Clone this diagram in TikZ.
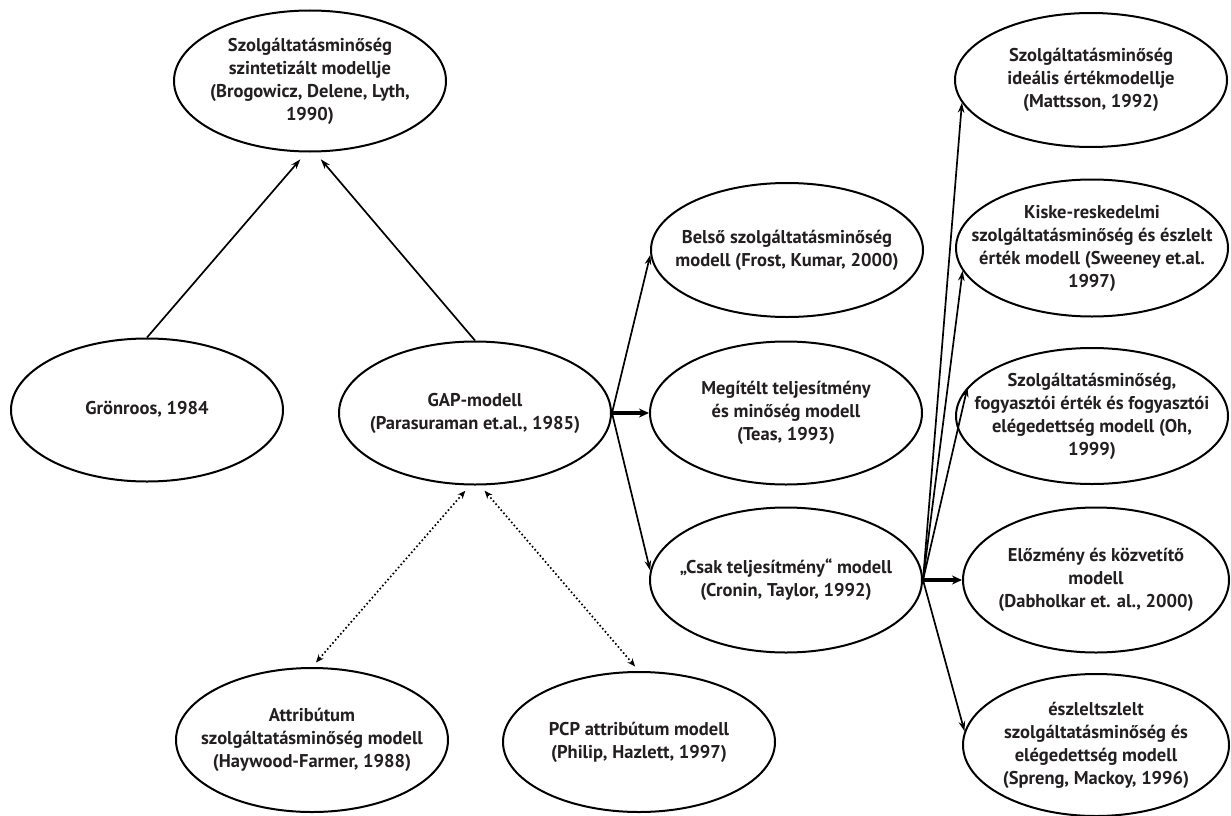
\documentclass[tikz,border=0pt]{standalone}
\usepackage{fontspec}
\setmainfont{PT Sans}
\usetikzlibrary{shapes.geometric, arrows.meta}
\definecolor{ink}{HTML}{231F20}
\newcommand{\lines}[1]{\makebox[0pt]{\begin{tabular}{@{}c@{}}#1\end{tabular}}}
\tikzstyle{model} = [ellipse, draw=black, line width=2pt, minimum width=272pt, minimum height=143pt, inner sep=0pt, text=ink, font=\fontsize{18.5}{23}\selectfont\bfseries]
\tikzstyle{arrow} = [line width=1.7pt, -{Stealth[length=10pt, width=6.5pt]}]
\tikzstyle{thickarrow} = [line width=3.2pt, -{Stealth[length=10pt, width=9pt]}]
\tikzstyle{link} = [line width=1.7pt, dash pattern=on 1.6pt off 2.4pt, {Stealth[length=8pt, width=6.5pt]}-{Stealth[length=8pt, width=6.5pt]}]

\begin{document}
\begin{tikzpicture}[x=1pt, y=-1pt]
                \useasboundingbox (0,0) rectangle (1231,816);
                % left part
                \node (synth) [model, minimum height=141pt] at (310,81) {\lines{Szolgáltatásminőség\\szintetizált modellje\\(Brogowicz, Delene, Lyth,\\1990)}};
                \node (gron) [model] at (147,410) {\lines{Grönroos, 1984}};
                \node (gap) [model] at (475,413) {\lines{GAP-modell\\(Parasuraman et.al., 1985)}};
                \node (attr) [model, minimum height=144pt] at (312,740) {\lines{Attribútum\\szolgáltatásminőség modell\\(Haywood-Farmer, 1988)}};
                \node (pcp) [model, minimum height=140pt] at (639,742) {\lines{PCP attribútum modell\\(Philip, Hazlett, 1997)}};
                % middle column
                \node (belso) [model, minimum height=134pt] at (787,250) {\lines{Belső szolgáltatásminőség\\modell (Frost, Kumar, 2000)}};
                \node (megitelt) [model] at (786,413) {\lines{Megítélt teljesítmény\\és minőség modell\\(Teas, 1993)}};
                \node (csak) [model, minimum height=145pt] at (786,580) {\lines{„Csak teljesítmény“ modell\\(Cronin, Taylor, 1992)}};
                % right column
                \node (mattsson) [model, minimum height=134pt] at (1091,80) {\lines{Szolgáltatásminőség\\ideális értékmodellje\\(Mattsson, 1992)}};
                \node (kiske) [model, minimum height=137pt] at (1092,248) {\lines{Kiske-reskedelmi\\szolgáltatásminőség és észlelt\\érték modell (Sweeney et.al.\\1997)}};
                \node (oh) [model, minimum height=136pt] at (1092,416) {\lines{Szolgáltatásminőség,\\fogyasztói érték és fogyasztói\\elégedettség modell (Oh,\\1999)}};
                \node (elozmeny) [model, minimum width=266pt, minimum height=145pt] at (1096,580) {\lines{Előzmény és közvetítő\\modell\\(Dabholkar et. al., 2000)}};
                \node (spreng) [model, minimum width=266pt, minimum height=142pt] at (1096,745) {\lines{észleltszlelt\\szolgáltatásminőség és\\elégedettség modell\\(Spreng, Mackoy, 1996)}};

                \draw [arrow, shorten >=9pt] (gron.north) -- (synth.267);
                \draw [arrow, shorten >=9pt] (gap.north) -- (synth.274);
                \draw [arrow] (gap.east) -- (belso.182);
                \draw [thickarrow] (gap.east) -- (megitelt.west);
                \draw [arrow] (gap.east) -- (csak.176);
                \draw [arrow] (csak.east) -- (mattsson.190);
                \draw [arrow] (csak.east) -- (kiske.190);
                \draw [arrow] (csak.east) -- (oh.167);
                \draw [thickarrow] (csak.east) -- (elozmeny.west);
                \draw [arrow] (csak.east) -- (spreng.174);
                \draw [link, shorten <=7pt, shorten >=6pt] (gap.266) -- (attr.north);
                \draw [link, shorten <=7pt, shorten >=6pt] (gap.274) -- (pcp.north);
            \end{tikzpicture}
\end{document}
